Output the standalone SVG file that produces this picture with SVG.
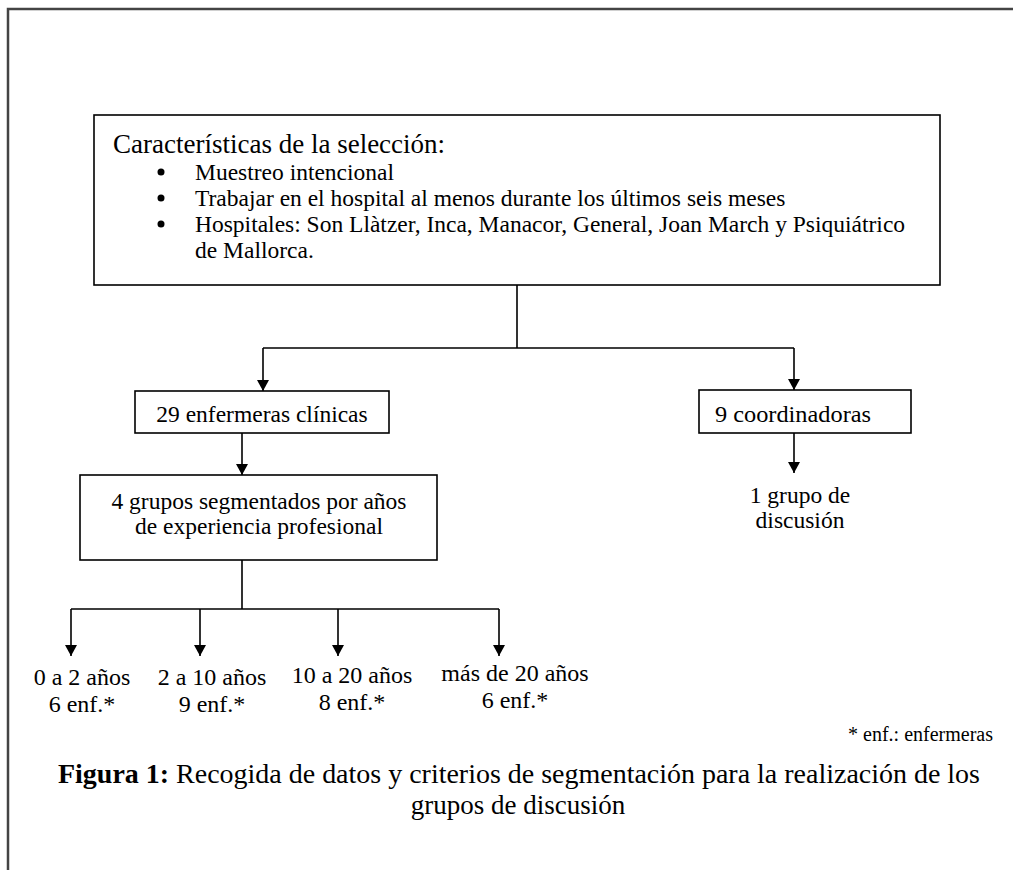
<svg xmlns="http://www.w3.org/2000/svg" width="1013" height="870" viewBox="0 0 1013 870">
<defs>
<marker id="ah" viewBox="0 0 12 13" refX="12" refY="6.5" markerWidth="13" markerHeight="12" markerUnits="userSpaceOnUse" orient="auto">
<path d="M0,0 L12,6.5 L0,13 z" fill="#000"/>
</marker>
</defs>
<style>
.t{font-family:"Liberation Serif","Times New Roman",serif;font-size:23.5px;fill:#000}
.l{font-size:24px}
.c{text-anchor:middle}
.box{fill:#fff;stroke:#000;stroke-width:1.6}
.ln{fill:none;stroke:#000;stroke-width:1.6}
.ar{fill:none;stroke:#000;stroke-width:1.6;marker-end:url(#ah)}
</style>
<rect width="1013" height="870" fill="#fff"/>
<path d="M8,875 L8,9 L1020,9" fill="none" stroke="#444" stroke-width="2.5"/>
<g id="seleccion">
<rect class="box" x="94" y="115" width="846" height="170"/>
<text class="t" x="113" y="153" style="font-size:27px">Características de la selección:</text>
<circle cx="161" cy="172" r="3.5"/>
<circle cx="161" cy="198" r="3.5"/>
<circle cx="161" cy="224" r="3.5"/>
<text class="t" x="195" y="180">Muestreo intencional</text>
<text class="t" x="195" y="206">Trabajar en el hospital al menos durante los últimos seis meses</text>
<text class="t" x="195" y="232">Hospitales: Son Llàtzer, Inca, Manacor, General, Joan March y Psiquiátrico</text>
<text class="t" x="195" y="258">de Mallorca.</text>
</g>
<g id="clinicas">
<rect class="box" x="135" y="391" width="254" height="42"/>
<text class="t c" x="262" y="422">29 enfermeras clínicas</text>
</g>
<g id="coordinadoras">
<rect class="box" x="699" y="390" width="212" height="43"/>
<text class="t" x="715" y="422" textLength="156" lengthAdjust="spacingAndGlyphs">9 coordinadoras</text>
</g>
<g id="grupo-coord">
<text class="t c" x="800" y="503">1 grupo de</text>
<text class="t c" x="800" y="528">discusión</text>
</g>
<g id="grupos">
<rect class="box" x="80" y="475" width="357" height="85"/>
<text class="t c" x="259" y="509">4 grupos segmentados por años</text>
<text class="t c" x="259" y="534">de experiencia profesional</text>
</g>
<g id="g0"><text class="t l c" x="82" y="685">0 a 2 años</text><text class="t l c" x="82" y="712">6 enf.*</text></g>
<g id="g1"><text class="t l c" x="212" y="685">2 a 10 años</text><text class="t l c" x="212" y="712">9 enf.*</text></g>
<g id="g2"><text class="t l c" x="352" y="683">10 a 20 años</text><text class="t l c" x="352" y="710">8 enf.*</text></g>
<g id="g3"><text class="t l c" x="515" y="681">más de 20 años</text><text class="t l c" x="515" y="708">6 enf.*</text></g>
<g id="nota"><text class="t" x="993" y="741" style="font-size:20px;text-anchor:end">* enf.: enfermeras</text></g>
<g id="caption">
<text class="t" x="58" y="783" style="font-size:27px" textLength="922" lengthAdjust="spacingAndGlyphs"><tspan font-weight="bold">Figura 1:</tspan> Recogida de datos y criterios de segmentación para la realización  de los</text>
<text class="t c" x="518" y="814" style="font-size:27px">grupos de discusión</text>
</g>
<g id="connectors">
<path class="ln" d="M517,285 V348 M263,348 H794"/>
<path class="ar" d="M263,348 V391"/>
<path class="ar" d="M794,348 V390"/>
<path class="ar" d="M242,433 V475"/>
<path class="ar" d="M794,433 V473"/>
<path class="ln" d="M242,560 V609 M71,609 H499"/>
<path class="ar" d="M71,609 V656"/>
<path class="ar" d="M200,609 V656"/>
<path class="ar" d="M338,609 V656"/>
<path class="ar" d="M499,609 V656"/>
</g>
</svg>
